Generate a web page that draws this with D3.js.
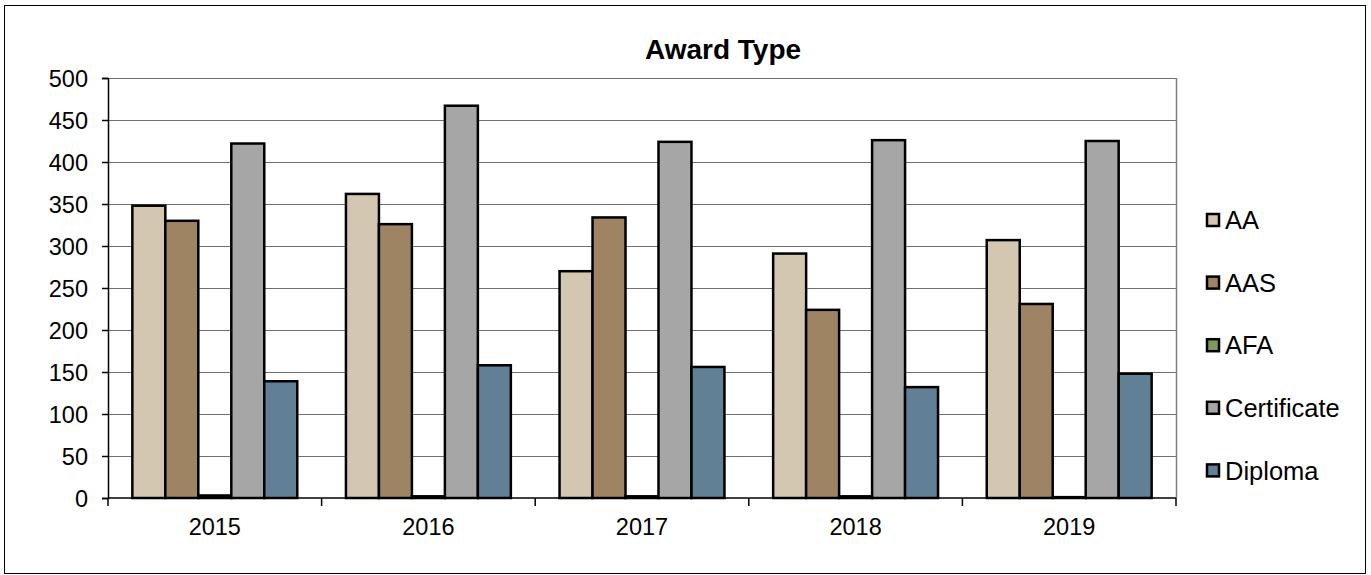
<!DOCTYPE html>
<html>
<head>
<meta charset="utf-8">
<script src="https://cdn.jsdelivr.net/npm/d3@7"></script>
<style>
  body { margin: 0; background: #fff; }
  svg text { font-family: "Liberation Sans", Arial, sans-serif; fill: #000; }
</style>
</head>
<body>
<div id="chart"></div>
<script>
'use strict';

// Data
var years = ['2015', '2016', '2017', '2018', '2019'];
var seriesNames = ['AA', 'AAS', 'AFA', 'Certificate', 'Diploma'];
var aaValues = [348, 362, 270, 291, 307];
var aasValues = [330, 326, 334, 224, 231];
var afaValues = [3, 2, 2, 2, 1];
var certificateValues = [422, 467, 424, 426, 425];
var diplomaValues = [139, 158, 156, 132, 148];
var yTicks = [0, 50, 100, 150, 200, 250, 300, 350, 400, 450, 500];

var seriesColors = ['#d3c7b2', '#9e8462', '#7e9a5a', '#a6a6a6', '#617f95'];
var seriesValues = [aaValues, aasValues, afaValues, certificateValues, diplomaValues];

var W = 1371, H = 575;
var margin = {top: 78, left: 108, right: 1371 - 1176, bottom: 575 - 498};
var width = W - margin.left - margin.right;
var height = H - margin.top - margin.bottom;

var svg = d3.select('#chart').append('svg')
	.attr('width', W)
	.attr('height', H);

// Outer chart border
svg.append('rect')
	.attr('x', 4.5).attr('y', 5.5)
	.attr('width', 1361).attr('height', 568)
	.attr('fill', 'none')
	.attr('stroke', '#000')
	.attr('stroke-width', 1);

// Title
svg.append('text')
	.attr('x', 723)
	.attr('y', 59)
	.attr('text-anchor', 'middle')
	.style('font-size', '28px')
	.style('font-weight', 'bold')
	.text('Award Type');

var view = svg.append('g')
	.attr('transform', 'translate(' + margin.left + ',' + margin.top + ')');

var x0 = d3.scaleBand()
	.domain(years)
	.range([0, width])
	.paddingInner(0.228)
	.paddingOuter(0.114);
var x1 = d3.scaleBand()
	.domain(seriesNames)
	.range([0, x0.bandwidth()]);
var y = d3.scaleLinear()
	.domain([0, 500])
	.range([height, 0]);

// Grid lines
view.append('g')
	.selectAll('line')
	.data(yTicks.filter(function(t) { return t > 0; }))
	.enter().append('line')
		.attr('x1', 0).attr('x2', width)
		.attr('y1', function(d) { return Math.round(y(d)) + 0.5; })
		.attr('y2', function(d) { return Math.round(y(d)) + 0.5; })
		.attr('stroke', '#707070')
		.attr('stroke-width', 1);

// right side of the plot frame
view.append('line')
	.attr('x1', width + 0.5).attr('x2', width + 0.5)
	.attr('y1', 0).attr('y2', height)
	.attr('stroke', '#808080')
	.attr('stroke-width', 1.5);

// Bars
var rows = years.map(function(yr, i) {
	return seriesNames.map(function(s, j) {
		return {year: yr, name: s, value: seriesValues[j][i], color: seriesColors[j]};
	});
});

view.append('g')
	.selectAll('g')
	.data(rows)
	.enter().append('g')
		.attr('transform', function(d, i) { return 'translate(' + x0(years[i]) + ',0)'; })
	.selectAll('rect')
	.data(function(d) { return d; })
	.enter().append('rect')
		.attr('x', function(d) { return x1(d.name); })
		.attr('width', x1.bandwidth())
		.attr('y', function(d) { return y(d.value); })
		.attr('height', function(d) { return height - y(d.value); })
		.attr('fill', function(d) { return d.color; })
		.attr('stroke', '#000')
		.attr('stroke-width', 2.5);

// Y axis
var yAxis = d3.axisLeft(y)
	.tickValues(yTicks)
	.tickSize(6)
	.tickPadding(14);
var yg = view.append('g').call(yAxis);
yg.select('.domain').attr('stroke', '#000').attr('stroke-width', 1.5);
yg.selectAll('.tick line').attr('stroke', '#000').attr('stroke-width', 1.5);
yg.selectAll('.tick text')
	.style('font-size', '23.5px')
	.attr('font-family', null)
	.attr('dy', '0.36em');

// X axis, ticks between categories
var boundaries = d3.range(years.length + 1).map(function(i) { return i * width / years.length; });
var xg = view.append('g').attr('transform', 'translate(0,' + height + ')');
xg.append('line')
	.attr('x1', 0).attr('x2', width)
	.attr('y1', 0).attr('y2', 0)
	.attr('stroke', '#000').attr('stroke-width', 1.5);
xg.selectAll('.bt')
	.data(boundaries)
	.enter().append('line')
		.attr('class', 'bt')
		.attr('x1', function(d) { return d; })
		.attr('x2', function(d) { return d; })
		.attr('y1', 0).attr('y2', 8)
		.attr('stroke', '#000').attr('stroke-width', 1.5);
xg.selectAll('.lbl')
	.data(years)
	.enter().append('text')
		.attr('class', 'lbl')
		.attr('x', function(d) { return x0(d) + x0.bandwidth() / 2; })
		.attr('y', 37)
		.attr('text-anchor', 'middle')
		.style('font-size', '23.5px')
		.text(function(d) { return d; });

// Legend
var legend = svg.append('g')
	.selectAll('g')
	.data(seriesNames)
	.enter().append('g')
		.attr('transform', function(d, i) { return 'translate(1206,' + (220 + i * 62.6) + ')'; });
legend.append('rect')
	.attr('x', 1).attr('y', -6)
	.attr('width', 12).attr('height', 12)
	.attr('fill', function(d, i) { return seriesColors[i]; })
	.attr('stroke', '#000')
	.attr('stroke-width', 2.5);
legend.append('text')
	.attr('x', 19)
	.attr('y', 0)
	.attr('dy', '0.36em')
	.style('font-size', '25.5px')
	.text(function(d) { return d; });
</script>
</body>
</html>
